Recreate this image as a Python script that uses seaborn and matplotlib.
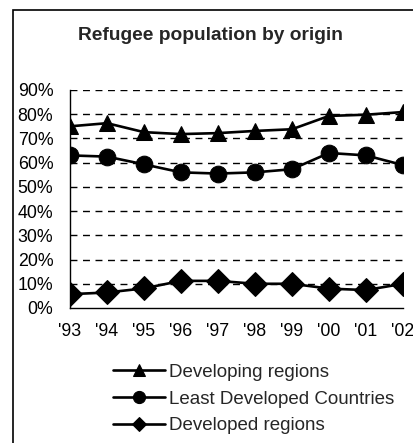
import pandas as pd
import matplotlib.pyplot as plt
import matplotlib.patches as patches
import seaborn as sns

# Values (percent of refugee population)
years = ["'93", "'94", "'95", "'96", "'97", "'98", "'99", "'00", "'01", "'02"]
developing = [75, 76.3, 72.6, 71.8, 72.2, 73.1, 73.8, 79.3, 79.8, 80.9]
least_developed = [63, 62.5, 59.3, 56, 55.5, 56, 57.3, 64, 63, 59]
developed = [5.7, 6.4, 8.1, 11.2, 11.2, 10, 10, 8, 7.4, 10]
series_names = ['Developing regions', 'Least Developed Countries', 'Developed regions']
y_ticks = [0, 10, 20, 30, 40, 50, 60, 70, 80, 90]

# Long form table for seaborn
rows = []
for name, vals in zip(series_names, [developing, least_developed, developed]):
    for i, v in enumerate(vals):
        rows.append({'pos': i, 'value': v, 'series': name})
data = pd.DataFrame(rows)

sns.set_style('white')
plt.rcParams['font.family'] = ['Liberation Sans', 'DejaVu Sans']

fig = plt.figure(figsize=(4.14, 4.43), dpi=100)
ax = fig.add_axes([70 / 414, 1 - 308 / 443, 333 / 414, 218 / 443])

sns.lineplot(data=data, x='pos', y='value', hue='series', style='series',
             markers={'Developing regions': '^', 'Least Developed Countries': 'o',
                      'Developed regions': 'D'},
             dashes=False, palette=['black'] * 3, linewidth=1.9,
             markersize=12, markeredgecolor='black', ax=ax)

# per-series marker sizes
sizes = {'Developing regions': 13, 'Least Developed Countries': 12.5, 'Developed regions': 10}
for line in ax.lines:
    lab = line.get_label()
    if lab in sizes:
        line.set_markersize(sizes[lab])

handles, labels = ax.get_legend_handles_labels()
ax.legend(handles, labels, loc='center left', bbox_to_anchor=(113 / 414, 1 - 399 / 443),
          bbox_transform=fig.transFigure, frameon=False, fontsize=13.5,
          handlelength=2.8, handletextpad=0.2, labelspacing=0.52,
          borderpad=0, borderaxespad=0, markerscale=0.7)

ax.set_xlim(0, 9)
ax.set_ylim(0, 90)
ax.set_xticks(range(len(years)))
ax.set_xticklabels(years)
ax.set_yticks(y_ticks)
ax.set_yticklabels([f'{t}%' for t in y_ticks])
ax.set_xlabel('')
ax.set_ylabel('')

for t in y_ticks[1:]:
    ax.axhline(t, color='black', lw=1, ls=(0, (5, 4)), zorder=0)

for s in ['top', 'right']:
    ax.spines[s].set_visible(False)
for s in ['left', 'bottom']:
    ax.spines[s].set_color('black')
    ax.spines[s].set_linewidth(1)
ax.tick_params(axis='both', direction='out', length=4, width=1, color='black',
               labelsize=12.8, labelcolor='black')
ax.tick_params(axis='y', pad=8)
ax.tick_params(axis='x', pad=7)

fig.text(210 / 414, 1 - 35 / 443, 'Refugee population by origin', ha='center', va='center',
         fontsize=13.8, fontweight='bold')

# outer frame of the chart area (extends past right and bottom edges)
fig.patches.append(patches.Rectangle((13 / 414, -0.1), 1.0, 1.1 - 10 / 443,
                                     transform=fig.transFigure, fill=False,
                                     edgecolor='black', linewidth=1.2))

fig.savefig('out.png', dpi=100)
